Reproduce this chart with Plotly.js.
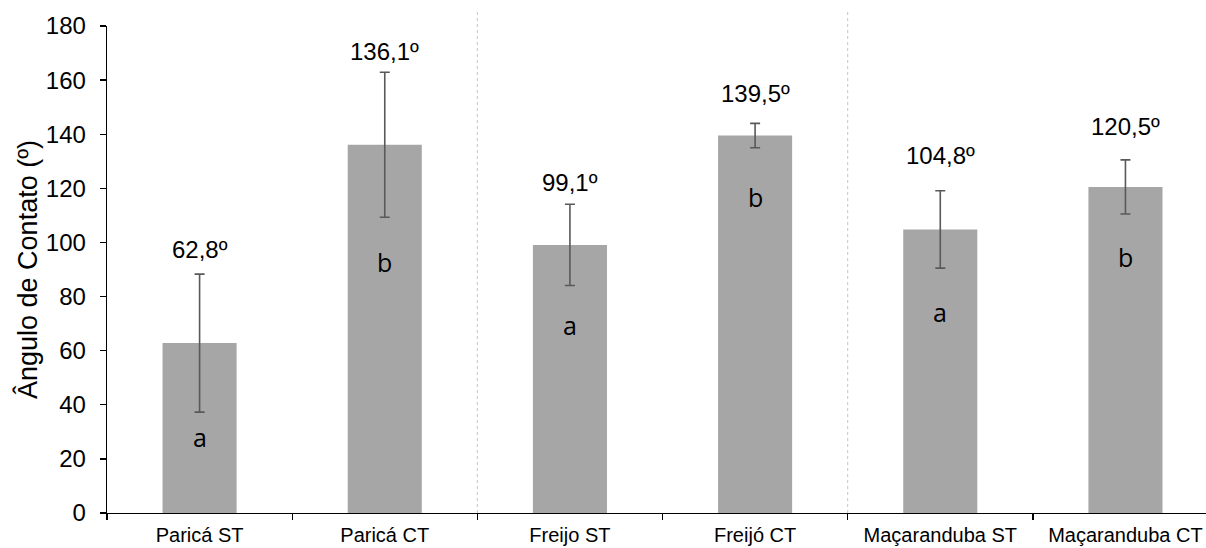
<!DOCTYPE html>
<html>
<head>
<meta charset="utf-8">
<script src="https://cdn.plot.ly/plotly-3.0.1.min.js"></script>
<style>html,body{margin:0;padding:0;background:#fff;}#chart{width:1206px;height:548px;}</style>
</head>
<body>
<div id="chart"></div>
<script>
// Data
const categories = ["Paricá ST", "Paricá CT", "Freijo ST", "Freijó CT", "Maçaranduba ST", "Maçaranduba CT"];
const meanAngle = [62.8, 136.1, 99.1, 139.5, 104.8, 120.5];
const stdDev = [25.5, 26.8, 15.0, 4.5, 14.3, 10.0];
const groupLetters = ["a", "b", "a", "b", "a", "b"];
const yTickVals = [0, 20, 40, 60, 80, 100, 120, 140, 160, 180];

// Label placement (positions only, not data)
const letterPos = [28.1, 92.8, 69.5, 116.8, 74.3, 94.6];
const valueLabelShift = [25, 21, 22, 30, 35, 33];

const fmt = v => v.toFixed(1).replace('.', ',') + 'º';
const sans = 'Liberation Sans, Arial, sans-serif';

const trace = {
  type: 'bar',
  x: categories,
  y: meanAngle,
  width: 0.4,
  marker: {color: '#a6a6a6'},
  error_y: {type: 'data', array: stdDev, visible: true, color: '#595959', thickness: 1.6, width: 5},
  hoverinfo: 'skip'
};

const annotations = [];
categories.forEach((c, i) => {
  annotations.push({
    x: c, xref: 'x', y: meanAngle[i] + stdDev[i], yref: 'y',
    text: fmt(meanAngle[i]), showarrow: false, yanchor: 'middle', yshift: valueLabelShift[i],
    font: {family: sans, size: 24, color: '#000'}
  });
  annotations.push({
    x: c, xref: 'x', y: letterPos[i], yref: 'y',
    text: groupLetters[i], showarrow: false, yanchor: 'middle',
    font: {family: 'Open Sans, sans-serif', size: 25, color: '#000'}
  });
});

const layout = {
  width: 1206, height: 548,
  margin: {l: 107, r: 0, t: 26, b: 35, pad: 0},
  paper_bgcolor: '#fff', plot_bgcolor: '#fff',
  showlegend: false,
  xaxis: {
    type: 'category', range: [-0.5, 5.435],
    showline: true, linecolor: '#000', linewidth: 1.3,
    ticks: 'outside', ticklen: 6, tickcolor: '#000', tickwidth: 1.3,
    tickson: 'boundaries', showgrid: false, zeroline: false,
    ticklabelstandoff: 4,
    tickfont: {family: sans, size: 20, color: '#000'}
  },
  yaxis: {
    range: [0, 180], tickvals: yTickVals,
    showline: true, linecolor: '#000', linewidth: 1.3,
    ticks: 'outside', ticklen: 6, tickcolor: '#000', tickwidth: 1.3,
    showgrid: false, zeroline: false,
    ticklabelstandoff: 9,
    tickfont: {family: sans, size: 24, color: '#000'},
    title: {text: 'Ângulo de Contato (º)', standoff: 0, font: {family: sans, size: 27, color: '#000'}}
  },
  shapes: [1.5, 3.5].map(xv => ({
    type: 'line', xref: 'x', yref: 'paper', x0: xv, x1: xv, y0: 0, y1: 1.03,
    line: {color: '#c4c4c4', width: 1, dash: 'dot'}, layer: 'below'
  })),
  annotations: annotations
};

Plotly.newPlot('chart', [trace], layout, {displayModeBar: false, staticPlot: true});
</script>
</body>
</html>
